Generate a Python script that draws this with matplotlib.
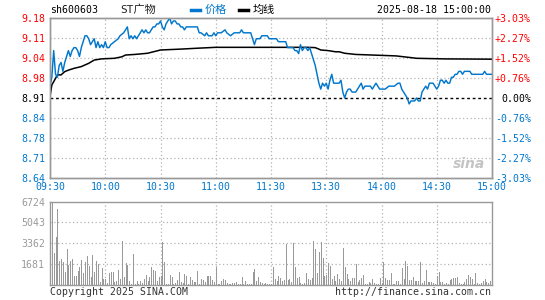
import matplotlib
matplotlib.use('Agg')
import matplotlib.pyplot as plt

PREV_CLOSE = 8.91
BLUE = '#0077cc'
RED = '#ff0000'
GRAY = '#999999'
GRID = '#b4b4b4'
MONO = 'DejaVu Sans Mono'
CJK = [MONO, 'Noto Sans CJK SC']
FS = 7.1

# minute index (0 = 09:30, 120 = 11:30, 240 = 15:00) and price
price_min = [0, 1, 2, 3, 4, 5, 6, 7, 8, 9, 10, 11, 12, 13, 14, 15, 16, 17, 18, 19,
             20, 21, 22, 23, 24, 25, 26, 27, 28, 29, 30, 31, 32, 33, 35, 37, 38, 40, 41, 42,
             43, 44, 45, 46, 47, 48, 49, 50, 51, 52, 53, 54, 55, 56, 57, 58, 59, 60, 61, 62,
             63, 64, 65, 66, 67, 68, 69, 70, 71, 72, 73, 74, 75, 76, 78, 80, 81, 82, 84, 85,
             86, 88, 89, 90, 91, 93, 95, 96, 98, 100, 103, 104, 105, 108, 109, 110, 111, 112, 114, 115,
             117, 118, 119, 120, 122, 123, 124, 128, 129, 130, 132, 133, 134, 135, 136, 137, 138, 139, 140, 141,
             142, 143, 144, 145, 146, 147, 148, 149, 150, 151, 152, 153, 154, 157, 158, 159, 160, 161, 162, 163,
             164, 166, 167, 168, 169, 170, 171, 173, 174, 175, 176, 177, 178, 179, 180, 181, 182, 184, 187, 189,
             190, 191, 192, 193, 194, 195, 196, 198, 199, 200, 201, 202, 203, 204, 205, 206, 208, 209, 210, 211,
             212, 213, 214, 215, 216, 217, 218, 219, 220, 221, 222, 223, 224, 225, 227, 228, 229, 235, 236, 237,
             240]
price = [8.95, 8.98, 9.07, 8.99, 8.98, 9.02, 9.03, 9.00, 9.03, 9.05, 9.07, 9.05, 9.07, 9.08, 9.08, 9.07, 9.05, 9.08, 9.10, 9.12,
         9.12, 9.11, 9.09, 9.10, 9.11, 9.08, 9.10, 9.08, 9.09, 9.08, 9.10, 9.08, 9.08, 9.09, 9.10, 9.11, 9.12, 9.13, 9.14, 9.15,
         9.11, 9.12, 9.11, 9.12, 9.11, 9.12, 9.13, 9.14, 9.13, 9.14, 9.13, 9.13, 9.14, 9.15, 9.15, 9.16, 9.16, 9.17, 9.15, 9.14,
         9.16, 9.17, 9.18, 9.16, 9.17, 9.17, 9.16, 9.16, 9.15, 9.15, 9.14, 9.15, 9.15, 9.15, 9.15, 9.15, 9.13, 9.13, 9.12, 9.13,
         9.12, 9.12, 9.13, 9.12, 9.13, 9.13, 9.14, 9.13, 9.12, 9.13, 9.13, 9.14, 9.13, 9.13, 9.13, 9.11, 9.09, 9.11, 9.11, 9.12,
         9.12, 9.12, 9.11, 9.11, 9.11, 9.11, 9.10, 9.10, 9.08, 9.08, 9.08, 9.07, 9.07, 9.06, 9.09, 9.07, 9.08, 9.08, 9.07, 9.08,
         9.06, 9.04, 9.02, 8.99, 8.96, 8.94, 8.96, 8.95, 8.96, 8.94, 8.97, 8.99, 8.96, 8.96, 8.97, 8.93, 8.91, 8.93, 8.94, 8.94,
         8.93, 8.93, 8.94, 8.95, 8.96, 8.94, 8.95, 8.95, 8.95, 8.94, 8.95, 8.96, 8.95, 8.94, 8.94, 8.94, 8.94, 8.95, 8.95, 8.96,
         8.96, 8.94, 8.93, 8.92, 8.91, 8.89, 8.90, 8.90, 8.91, 8.90, 8.90, 8.93, 8.94, 8.95, 8.94, 8.96, 8.96, 8.95, 8.94, 8.95,
         8.97, 8.97, 8.96, 8.97, 8.96, 8.96, 8.98, 8.98, 8.99, 8.99, 9.00, 9.00, 8.99, 9.00, 9.00, 9.00, 8.99, 8.99, 9.00, 8.99,
         8.99]

avg_min = [0, 1, 3, 4, 6, 8, 10, 13, 17, 21, 24, 28, 35, 39, 41, 46, 53, 60, 71, 80,
           90, 106, 140, 144, 146, 147, 151, 155, 157, 160, 166, 175, 188, 195, 199, 214, 240]
avg_price = [8.915, 8.954, 8.976, 8.988, 8.988, 8.999, 9.004, 9.010, 9.016, 9.027,
             9.038, 9.042, 9.044, 9.049, 9.055, 9.057, 9.061, 9.072, 9.075, 9.078,
             9.081, 9.081, 9.081, 9.080, 9.075, 9.072, 9.070, 9.066, 9.066, 9.061,
             9.057, 9.055, 9.052, 9.047, 9.044, 9.042, 9.041]

# one volume bar per minute, 241 bars
volume = [1460, 6724, 2590, 3871, 6114, 1976, 2109, 1869, 1068, 2910,
          1655, 1922, 2109, 721, 721, 1121, 1468, 2029, 988, 1869,
          2350, 1522, 668, 2430, 1068, 1949, 1682, 294, 1362, 534,
          507, 214, 988, 1068, 1068, 267, 347, 1228, 534, 3578,
          668, 1789, 1655, 347, 134, 2510, 107, 347, 107, 347,
          187, 507, 854, 320, 641, 1468, 1255, 1175, 320, 641,
          748, 3498, 1869, 107, 134, 828, 668, 107, 160, 427,
          1068, 267, 160, 908, 774, 107, 694, 454, 267, 267,
          1175,
          107, 507, 427, 267, 748, 748, 748, 427, 267, 1468,
          107, 107, 347, 507, 427, 187, 107, 107, 187, 187,
          267, 107, 107, 668, 107, 347, 107, 107, 107, 1068,
          1308, 347, 668, 267, 187, 107, 187, 107, 107, 107,
          1468, 507, 347, 748, 587, 347, 427, 3311, 427, 507,
          267, 3391, 1468, 587, 668, 187, 107, 187, 988, 507,
          427, 587, 3551, 2910, 988, 2670, 3471, 2189, 748, 828,
          1789, 1549, 507, 748, 347, 908, 507, 347, 2990,
          1468, 908, 507, 347, 587, 587, 1709, 267, 427, 587,
          828, 107, 107, 267, 187, 507, 187, 107, 107, 587,
          187, 1869, 587, 427, 427, 988, 107, 107, 347, 347,
          107, 1388, 507, 1949, 1549, 427, 427, 668, 347, 347,
          347, 1869, 187, 347, 1228, 267, 267, 267, 187, 107,
          748, 1068, 267, 267, 107, 187, 107, 427, 507, 587,
          587, 668, 187, 107, 107, 267, 507, 828, 668, 507,
          107, 988, 187, 107, 187, 347, 507, 267, 187, 347,
          507]

time_ticks = [0, 30, 60, 90, 120, 150, 180, 210, 240]
time_labels = ['09:30', '10:00', '10:30', '11:00', '11:30', '13:30', '14:00', '14:30', '15:00']
pct_levels = [3.03, 2.27, 1.52, 0.76, 0.0, -0.76, -1.52, -2.27, -3.03]
price_labels = ['9.18', '9.11', '9.04', '8.98', '8.91', '8.84', '8.78', '8.71', '8.64']
pct_labels = ['+3.03%', '+2.27%', '+1.52%', '+0.76%', '0.00%', '-0.76%', '-1.52%', '-2.27%', '-3.03%']
vol_ticks = [1681, 3362, 5043, 6724]

fig = plt.figure(figsize=(5.45, 3.0), dpi=100)
ax = fig.add_axes([50 / 545, 1 - 178 / 300, 442 / 545, 160 / 300])
axv = fig.add_axes([50 / 545, 1 - 285.3 / 300, 442 / 545, 83.8 / 300])

levels = [PREV_CLOSE * (1 + p / 100) for p in pct_levels]
dot = (0, (1, 2))

# main price panel
ax.set_xlim(0, 240)
ax.set_ylim(levels[-1], levels[0])
for lv in levels[1:-1]:
    if lv == PREV_CLOSE:
        ax.axhline(lv, color='black', lw=1.0, ls=(0, (2, 2)), zorder=1)
    else:
        ax.axhline(lv, color=GRID, lw=0.9, ls=dot, zorder=1)
for t in time_ticks[1:-1]:
    ax.axvline(t, color=GRID, lw=0.9, ls=dot, zorder=1)

ax.plot(avg_min, avg_price, color='black', lw=1.1, zorder=3)
ax.plot(price_min, price, color=BLUE, lw=1.05, zorder=4)

ax.set_yticks(levels)
ax.set_yticklabels(price_labels, fontfamily=MONO, fontsize=FS)
ax.set_xticks(time_ticks)
ax.set_xticklabels(time_labels, fontfamily=MONO, fontsize=FS, color=BLUE)
ax.tick_params(length=0, pad=3.5)
ax.tick_params(axis='x', pad=3.2)

def level_colour(p):
    if p > 0:
        return RED
    if p < 0:
        return BLUE
    return 'black'

for lab, p in zip(ax.get_yticklabels(), pct_levels):
    lab.set_color(level_colour(p))

axr = ax.twinx()
axr.set_ylim(ax.get_ylim())
axr.set_yticks(levels)
axr.set_yticklabels(pct_labels, fontfamily=MONO, fontsize=FS, ha='right')
axr.tick_params(length=0, pad=28)
for lab, p in zip(axr.get_yticklabels(), pct_levels):
    lab.set_color(level_colour(p))

for a in (ax, axr, axv):
    for s in a.spines.values():
        s.set_color(GRAY)
        s.set_linewidth(1.0)

ax.text(0.985, 0.09, 'sina', transform=ax.transAxes, ha='right', va='center',
        fontsize=10, fontstyle='italic', fontweight='bold', color='#c4c4c4', zorder=2)

# volume panel
axv.set_xlim(0, 240)
axv.set_ylim(0, vol_ticks[-1])
for v in vol_ticks[:-1]:
    axv.axhline(v, color=GRID, lw=0.9, ls=dot, zorder=1)
for t in time_ticks[1:-1]:
    axv.axvline(t, color=GRID, lw=0.9, ls=dot, zorder=1)
axv.vlines(range(len(volume)), 0, volume, colors=GRAY, lw=0.7, zorder=3, antialiased=False)
axv.set_xticks([])
axv.set_yticks(vol_ticks)
axv.set_yticklabels([str(v) for v in vol_ticks], fontfamily=MONO, fontsize=FS, color=GRAY)
axv.tick_params(length=0, pad=3.5)

# header and footer
fig.text(50 / 545, 1 - 10 / 300, 'sh600603', fontfamily=MONO, fontsize=FS, va='center')
fig.text(120 / 545, 1 - 10 / 300, 'ST广物', family=CJK, fontsize=8, va='center', color='#222222')
fig.lines.append(plt.Line2D([191 / 545, 200 / 545], [1 - 10 / 300] * 2, color=BLUE, lw=2.5,
                            transform=fig.transFigure))
fig.text(205 / 545, 1 - 10 / 300, '价格', family=CJK, fontsize=8, va='center', color=BLUE)
fig.lines.append(plt.Line2D([239 / 545, 248 / 545], [1 - 10 / 300] * 2, color='black', lw=2.5,
                            transform=fig.transFigure))
fig.text(253 / 545, 1 - 10 / 300, '均线', family=CJK, fontsize=8, va='center', color='black')
fig.text(491 / 545, 1 - 10 / 300, '2025-08-18 15:00:00', fontfamily=MONO, fontsize=FS,
         va='center', ha='right')
fig.text(50 / 545, 1 - 292 / 300, 'Copyright 2025 SINA.COM', fontfamily=MONO, fontsize=FS,
         va='center', color='#333333')
fig.text(491 / 545, 1 - 292 / 300, 'http://finance.sina.com.cn', fontfamily=MONO, fontsize=FS,
         va='center', ha='right', color='#333333')

fig.savefig('out.png', dpi=100)
